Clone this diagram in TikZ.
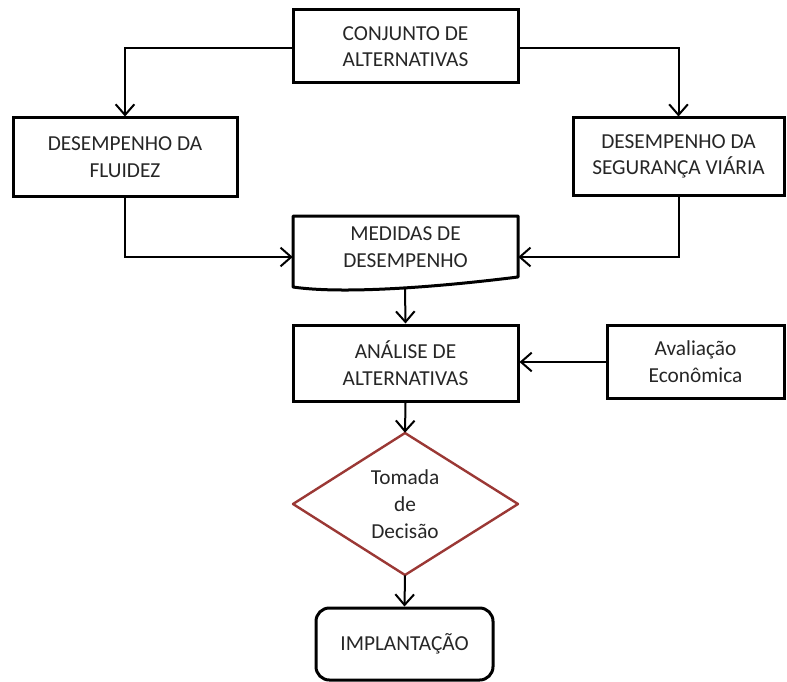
\documentclass[tikz,border=0pt]{standalone}
\usepackage{fontspec}
\setmainfont{Carlito}
\usetikzlibrary{arrows.meta,calc}
\definecolor{dred}{HTML}{9B3835}
\begin{document}
\begin{tikzpicture}[x=0.75pt,y=-0.75pt,
  every node/.style={font=\fontsize{16}{20}\selectfont, align=center, inner sep=0pt, text=black!85},
  box/.style={draw=black, line width=2.25pt, minimum width={#1}},
  conn/.style={draw=black, line width=1.5pt, -{Straight Barb[length=8pt,width=14pt,line width=1.5pt]}}]
\useasboundingbox (0,0) rectangle (787,681);
% boxes (width, height in px * 0.75pt)
\node[box=168.75pt, minimum height=54.75pt] (conj) at (405.5,46.5) {CONJUNTO DE\\ALTERNATIVAS};
\node[box=168pt, minimum height=58.5pt] (flu) at (125,157) {DESEMPENHO DA\\FLUIDEZ};
\node[box=158.25pt, minimum height=57.75pt] (seg) at (678.5,156.5) {DESEMPENHO DA\\SEGURANÇA VIÁRIA};
% document shape
\draw[line width=2.25pt, line join=round] (293,287) -- (293,216) -- (518,216) -- (518,277)
  .. controls (430,288) and (340,294) .. cycle;
\node[minimum width=168.75pt, minimum height=46.5pt] (med) at (405.5,247) {MEDIDAS DE\\DESEMPENHO};
\coordinate (medb) at (405,289);
\node[box=168.75pt, minimum height=57pt] (ana) at (405.5,363) {ANÁLISE DE\\ALTERNATIVAS};
\node[box=132.75pt, minimum height=54.75pt] (aval) at (695.5,361.5) {Avaliação\\Econômica};
% diamond
\draw[dred, line width=1.8pt, line join=round] (405,433) -- (518,504) -- (405,575) -- (293,504) -- cycle;
\node[minimum width=20pt, minimum height=106.5pt] (dec) at (405,504) {Tomada\\de\\Decisão};
\node[box=132.75pt, minimum height=54pt, rounded corners=10pt] (imp) at (404.5,644) {IMPLANTAÇÃO};
% connectors
\draw[conn] (conj.west |- 0,48) -| (flu.north);
\draw[conn] (conj.east |- 0,48) -| (seg.north);
\draw[conn] (flu.south) |- (med.west |- 0,257);
\draw[conn] (seg.south) |- (med.east |- 0,257);
\draw[conn] (medb) -- (ana.north);
\draw[conn] (aval.west |- 0,362) -- (ana.east |- 0,362);
\draw[conn] (ana.south) -- (dec.north);
\draw[conn] (dec.south) -- (imp.north);
\end{tikzpicture}
\end{document}
